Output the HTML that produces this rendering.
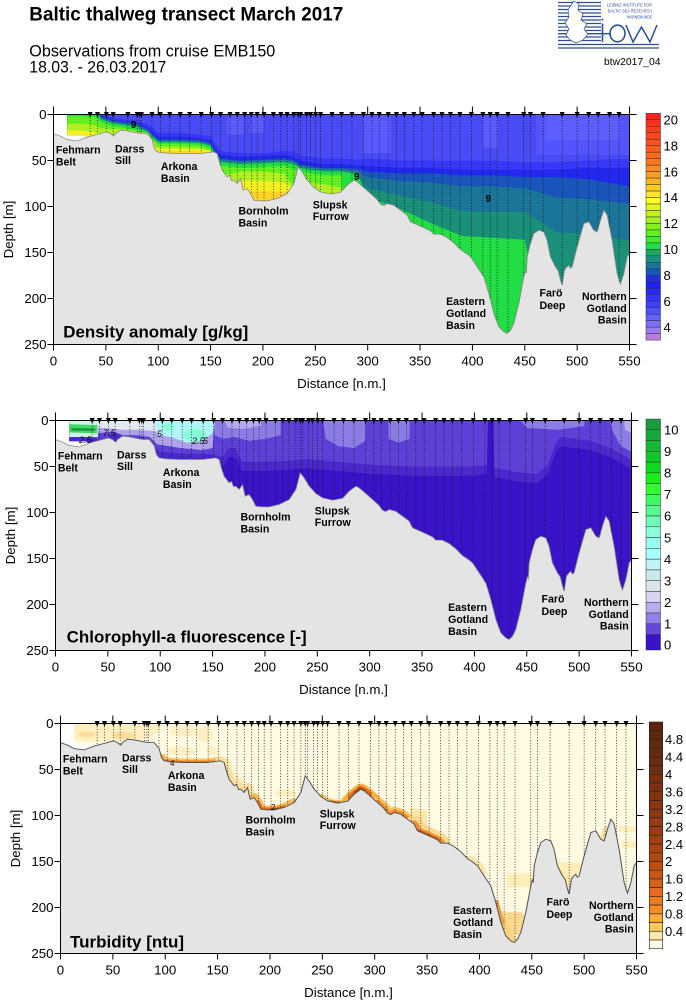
<!DOCTYPE html>
<html><head><meta charset="utf-8"><style>html,body{margin:0;padding:0;background:#fff;}svg{display:block;}</style></head>
<body>
<svg xmlns="http://www.w3.org/2000/svg" width="686" height="1000" viewBox="0 0 686 1000" font-family="'Liberation Sans', Arial, sans-serif">
<rect width="686" height="1000" fill="#fff"/>
<defs>
<clipPath id="dc"><path d="M13,0 H550 V250 H32.8 V24.3 L28,22.5 H13 Z"/></clipPath>
<path id="botf" d="M0,20.7 6.7,23.6 13,27.2 22.6,28.7 32.8,24.3 44.9,20.7 50.6,18.9 54.4,20.7 57.6,23.6 59.2,20.7 64,17.1 70.3,17.8 76.7,19.3 83,20.7 89.4,20.7 94.2,27.2 96.4,37 99,40.6 105.3,41.7 118,42.4 140.4,42.4 153,40.6 156.3,42.4 157.9,49.7 161,60.5 165.8,67.8 168,66 170,72 172.2,71.4 175.4,75 178.6,69.6 181.1,82.3 184.9,80.5 188.1,85.9 191.3,93.2 197.7,93.9 204,93.9 213.6,91.3 223.2,85.9 229.5,75 233.7,56.9 237.5,62.4 242.3,71.4 248.7,79.4 255,84.1 264.6,86.6 274.2,84.5 280.4,76.9 286.8,71.4 289.9,73.2 296.3,79.4 302.7,85.9 309,92.4 312.2,97.5 315.4,99 318.6,96.8 324.9,98.6 331.3,104 337.7,109.4 340.9,116.7 350.4,121.4 360,126.5 363.2,130.1 369.5,130.1 375.9,133.7 382.3,139.5 388.6,146.8 395,151.8 398.2,154.7 404.5,165.6 410.9,176.5 415.7,194.6 420.5,216.3 425.2,230.8 430,236.3 433.2,238.1 436.4,234.5 439.5,227.2 444.3,205.5 449.1,176.5 450.5,170 451.5,172 452.3,154.7 455.4,140.3 458.6,129.4 463.4,125.8 468.2,127.6 471.3,136.7 474.5,154.7 479.3,165.6 482,170 484.1,180.1 485.7,185.5 487.9,169.2 490,166 492,163.8 493.5,167 495.2,165.6 500,143.9 506.4,118.5 511.2,116.7 515.9,125.8 519.1,127.6 522.3,114.9 525.5,104 528.7,109.4 533.4,136.7 538.2,172.9 541.4,184.4 544.6,172.9 547.8,154.7 550,151.1 L550,250 L0,250 Z"/>
<path id="botl" d="M0,20.7 6.7,23.6 13,27.2 22.6,28.7 32.8,24.3 44.9,20.7 50.6,18.9 54.4,20.7 57.6,23.6 59.2,20.7 64,17.1 70.3,17.8 76.7,19.3 83,20.7 89.4,20.7 94.2,27.2 96.4,37 99,40.6 105.3,41.7 118,42.4 140.4,42.4 153,40.6 156.3,42.4 157.9,49.7 161,60.5 165.8,67.8 168,66 170,72 172.2,71.4 175.4,75 178.6,69.6 181.1,82.3 184.9,80.5 188.1,85.9 191.3,93.2 197.7,93.9 204,93.9 213.6,91.3 223.2,85.9 229.5,75 233.7,56.9 237.5,62.4 242.3,71.4 248.7,79.4 255,84.1 264.6,86.6 274.2,84.5 280.4,76.9 286.8,71.4 289.9,73.2 296.3,79.4 302.7,85.9 309,92.4 312.2,97.5 315.4,99 318.6,96.8 324.9,98.6 331.3,104 337.7,109.4 340.9,116.7 350.4,121.4 360,126.5 363.2,130.1 369.5,130.1 375.9,133.7 382.3,139.5 388.6,146.8 395,151.8 398.2,154.7 404.5,165.6 410.9,176.5 415.7,194.6 420.5,216.3 425.2,230.8 430,236.3 433.2,238.1 436.4,234.5 439.5,227.2 444.3,205.5 449.1,176.5 450.5,170 451.5,172 452.3,154.7 455.4,140.3 458.6,129.4 463.4,125.8 468.2,127.6 471.3,136.7 474.5,154.7 479.3,165.6 482,170 484.1,180.1 485.7,185.5 487.9,169.2 490,166 492,163.8 493.5,167 495.2,165.6 500,143.9 506.4,118.5 511.2,116.7 515.9,125.8 519.1,127.6 522.3,114.9 525.5,104 528.7,109.4 533.4,136.7 538.2,172.9 541.4,184.4 544.6,172.9 547.8,154.7 550,151.1"/>
<g id="st">
<path fill="none" stroke="#111" stroke-width="0.7" stroke-dasharray="1.1 1.9" d="M35,0V23M42,0V21M50.5,0V18.5M57,0V22.5M71,0V17.5M80,0V19.5M82.5,0V20M84,0V20.5M94,0V26M102,0V41M111,0V42M121,0V42M130,0V42M141,0V42M151,0V40.5M159.5,0V55M168.5,0V67M175.5,0V74M182.5,0V81M189,0V87M194.5,0V93M201,0V93.5M210,0V92M217,0V89M223,0V85.5M229.5,0V74.5M233.7,0V56.5M236,0V60M241.7,0V70M245.5,0V75M250.3,0V80M255,0V83.5M266,0V86M275,0V83M285,0V72.5M296,0V79M304,0V87M311,0V94.5M319.6,0V96.5M327.5,0V100.5M335,0V107M344,0V117.5M352,0V122M363,0V129.5M371,0V130.5M379,0V136M388,0V146M399,0V155M410,0V175M417,0V199M423.6,0V224M434,0V236.5M449,0V176M455.4,0V140M467.5,0V127M485.7,0V185M500,0V143.5M511,0V116.5M520,0V125M531,0V122M540,0V182"/>
<path fill="#000" d="M32.6,-2.7h4.8l-2.4,6zM39.6,-2.7h4.8l-2.4,6zM48.1,-2.7h4.8l-2.4,6zM54.6,-2.7h4.8l-2.4,6zM68.6,-2.7h4.8l-2.4,6zM77.6,-2.7h4.8l-2.4,6zM80.1,-2.7h4.8l-2.4,6zM81.6,-2.7h4.8l-2.4,6zM91.6,-2.7h4.8l-2.4,6zM99.6,-2.7h4.8l-2.4,6zM108.6,-2.7h4.8l-2.4,6zM118.6,-2.7h4.8l-2.4,6zM127.6,-2.7h4.8l-2.4,6zM138.6,-2.7h4.8l-2.4,6zM148.6,-2.7h4.8l-2.4,6zM157.1,-2.7h4.8l-2.4,6zM166.1,-2.7h4.8l-2.4,6zM173.1,-2.7h4.8l-2.4,6zM180.1,-2.7h4.8l-2.4,6zM186.6,-2.7h4.8l-2.4,6zM192.1,-2.7h4.8l-2.4,6zM198.6,-2.7h4.8l-2.4,6zM207.6,-2.7h4.8l-2.4,6zM214.6,-2.7h4.8l-2.4,6zM220.6,-2.7h4.8l-2.4,6zM227.1,-2.7h4.8l-2.4,6zM231.3,-2.7h4.8l-2.4,6zM233.6,-2.7h4.8l-2.4,6zM239.3,-2.7h4.8l-2.4,6zM243.1,-2.7h4.8l-2.4,6zM247.9,-2.7h4.8l-2.4,6zM252.6,-2.7h4.8l-2.4,6zM263.6,-2.7h4.8l-2.4,6zM272.6,-2.7h4.8l-2.4,6zM282.6,-2.7h4.8l-2.4,6zM293.6,-2.7h4.8l-2.4,6zM301.6,-2.7h4.8l-2.4,6zM308.6,-2.7h4.8l-2.4,6zM317.2,-2.7h4.8l-2.4,6zM325.1,-2.7h4.8l-2.4,6zM332.6,-2.7h4.8l-2.4,6zM341.6,-2.7h4.8l-2.4,6zM349.6,-2.7h4.8l-2.4,6zM360.6,-2.7h4.8l-2.4,6zM368.6,-2.7h4.8l-2.4,6zM376.6,-2.7h4.8l-2.4,6zM385.6,-2.7h4.8l-2.4,6zM396.6,-2.7h4.8l-2.4,6zM407.6,-2.7h4.8l-2.4,6zM414.6,-2.7h4.8l-2.4,6zM421.2,-2.7h4.8l-2.4,6zM431.6,-2.7h4.8l-2.4,6zM446.6,-2.7h4.8l-2.4,6zM453,-2.7h4.8l-2.4,6zM465.1,-2.7h4.8l-2.4,6zM483.3,-2.7h4.8l-2.4,6zM497.6,-2.7h4.8l-2.4,6zM508.6,-2.7h4.8l-2.4,6zM517.6,-2.7h4.8l-2.4,6zM528.6,-2.7h4.8l-2.4,6zM537.6,-2.7h4.8l-2.4,6z"/>
</g>
<g id="ax" font-size="13.3" fill="#000">
<path fill="none" stroke="#000" stroke-width="1" d="M0,-8V230H576V-8M-6,0H583M52.36,-8V0M104.73,-8V0M157.09,-8V0M209.45,-8V0M261.82,-8V0M314.18,-8V0M366.55,-8V0M418.91,-8V0M471.27,-8V0M523.64,-8V0M0,230V236M52.36,230V236M104.73,230V236M157.09,230V236M209.45,230V236M261.82,230V236M314.18,230V236M366.55,230V236M418.91,230V236M471.27,230V236M523.64,230V236M576,230V236M-6,46H0M-6,92H0M-6,138H0M-6,184H0M-6,230H0M576,46H583M576,92H583M576,138H583M576,184H583M576,230H583"/>
<g text-anchor="middle">
<text x="0" y="251">0</text><text x="52.36" y="251">50</text><text x="104.73" y="251">100</text><text x="157.09" y="251">150</text><text x="209.45" y="251">200</text><text x="261.82" y="251">250</text><text x="314.18" y="251">300</text><text x="366.55" y="251">350</text><text x="418.91" y="251">400</text><text x="471.27" y="251">450</text><text x="523.64" y="251">500</text><text x="576" y="251">550</text>
<text x="288" y="273.5">Distance [n.m.]</text>
<text transform="translate(-40.5,115) rotate(-90)">Depth [m]</text>
</g>
<g text-anchor="end">
<text x="-7" y="4.7">0</text><text x="-7" y="50.7">50</text><text x="-7" y="96.7">100</text><text x="-7" y="142.7">150</text><text x="-7" y="188.7">200</text><text x="-7" y="234.7">250</text>
</g>
<g font-size="10.6" font-weight="bold">
<text x="2.4" y="39">Fehmarn</text><text x="2.4" y="51">Belt</text>
<text x="61.5" y="37.8">Darss</text><text x="61.5" y="49.5">Sill</text>
<text x="107.4" y="55.7">Arkona</text><text x="107.4" y="67.5">Basin</text>
<text x="185" y="99.8">Bornholm</text><text x="185" y="111.8">Basin</text>
<text x="259.3" y="94">Slupsk</text><text x="259.3" y="105.7">Furrow</text>
<text x="392.6" y="190.3">Eastern</text><text x="392.6" y="202.5">Gotland</text><text x="392.6" y="214.5">Basin</text>
<text x="486" y="182">Farö</text><text x="486" y="194.3">Deep</text>
<g text-anchor="end"><text x="573.2" y="185.3">Northern</text><text x="573.2" y="197.3">Gotland</text><text x="573.2" y="209.1">Basin</text></g>
</g>
</g>
</defs>

<!-- Header -->
<text x="29.3" y="20.7" font-size="19" font-weight="bold" textLength="314" lengthAdjust="spacingAndGlyphs">Baltic thalweg transect March 2017</text>
<text x="29.3" y="56.7" font-size="16.3" textLength="246" lengthAdjust="spacingAndGlyphs">Observations from cruise EMB150</text>
<text x="29.3" y="72.7" font-size="16.3" textLength="137" lengthAdjust="spacingAndGlyphs">18.03. - 26.03.2017</text>
<text x="604" y="65" font-size="10.4" textLength="56.5" lengthAdjust="spacingAndGlyphs">btw2017_04</text>

<!-- Logo -->
<g stroke="#2c4f97" fill="none">
<path stroke-width="1.3" d="M558,2.5H601M558,6H601M558,9.5H601M558,13H601M558,16.5H601M558,20H601M558,23.5H601M558,27H601M558,30.5H601M558,37H601M558,40.5H601M558,33.7H610M558,44.5H659M558,48H659"/>
<path fill="#fff" stroke-width="0.7" d="M574,1 L579,4 L578,10 L583,14 L581,20 L587,24 L584,29 L588,34 L583,40 L576,43 L570,40 L566,35 L569,29 L565,23 L569,17 L568,10 L571,5Z"/>
<path stroke-width="1.6" d="M602.5,23.5V42"/>
<ellipse cx="617.5" cy="33.5" rx="7.5" ry="8.3" stroke-width="1.6"/>
<polyline points="626,25 633,42 641.5,27 650,42 657,25" stroke-width="1.5"/>
</g>
<circle cx="602.5" cy="19.5" r="1" fill="#2c4f97"/>
<g fill="#2c4f97" font-size="4.3" text-anchor="end">
<text x="652" y="6.5" textLength="45" lengthAdjust="spacingAndGlyphs">LEIBNIZ INSTITUTE FOR</text>
<text x="652" y="12.3" textLength="44" lengthAdjust="spacingAndGlyphs">BALTIC SEA RESEARCH</text>
<text x="652" y="18.3" textLength="25" lengthAdjust="spacingAndGlyphs">WARNEMÜNDE</text>
</g>

<!-- ================= PANEL 1: Density ================= -->
<g transform="translate(53.5,114.5) scale(1.04727,0.92)">
<g clip-path="url(#dc)">
<rect x="0" y="-5" width="560" height="255" fill="#4a4af6"/>
<path fill="#5a5aff" d="M166,0H182V22H166ZM188,0H201V20H188ZM296,0H322V42H296ZM410,0H424V36H410Z"/>
<path fill="#5454fc" d="M461,0H550V44H461Z"/>
<path fill="#5e5eff" d="M470,0H540V28H470Z"/>
<polygon fill="#3838fa" points="13,-10 30,-10 40,-10 45,0 55,3 65,5 78,6 90,10 97,16 100,20 120,20 140,22 150,24 155,32 160,40 180,42 200,42 220,40 230,40 235,44 245,46 260,48 275,48 290,49 300,48 330,50 360,50 390,50 420,50 450,52 480,52 510,50 550,48 550,300 13,300"/>
<polygon fill="#2228ee" points="13,-10 30,-10 40,-10 45,1 55,5 65,7 78,8 90,14 97,20 100,24 120,24 140,26 150,28 155,38 160,44 180,46 200,45 220,44 230,46 235,50 245,52 260,54 275,54 290,55 300,56 330,58 360,58 390,60 420,60 450,60 480,60 510,58 550,58 550,300 13,300"/>
<polygon fill="#1a55bb" points="13,-10 30,-10 40,-10 45,2 55,6 65,8 78,9 90,16 97,24 100,27 120,27 140,28 150,31 155,42 160,48 180,50 200,49 220,48 230,50 235,54 245,56 260,58 275,58 290,59 300,62 330,64 360,64 390,66 420,66 450,68 480,68 510,70 550,78 550,300 13,300"/>
<polygon fill="#1a7598" points="13,-10 30,-10 40,-10 45,3 55,7 65,9 78,10 90,17 97,25 100,28 120,28 140,29 150,32 155,43 160,49 180,51 200,50 220,49 230,51 235,55 245,57 260,59 275,59 290,61 300,68 330,72 360,74 390,78 420,78 450,80 480,90 510,92 550,97 550,300 13,300"/>
<polygon fill="#1a9078" points="13,-10 30,-10 40,-10 45,4 55,8 65,10 78,11 90,18 97,26 100,29 120,29 140,30 150,33 155,44 160,50 180,52 200,51 220,50 230,52 235,56 245,58 260,60 275,60 290,63 300,80 330,88 360,95 390,105 420,106 450,106 480,128 510,130 550,137 550,300 13,300"/>
<polygon fill="#22dd44" points="13,-10 30,-10 40,-10 45,5 55,9 65,11 78,13 90,19 97,27 100,30 120,30 140,31 150,34 155,45 160,52 180,54 200,53 220,52 230,54 235,58 245,60 260,62 275,62 290,65 300,90 330,102 360,118 390,132 420,134 450,136 480,300 550,300 13,300"/>
<polygon fill="#60f020" points="13,2 30,2 40,3 45,8 55,12 65,14 78,17 90,21 97,30 100,32 120,32 140,33 150,37 155,48 160,56 180,58 200,57 220,56 230,60 235,62 245,64 260,66 275,66 290,300 550,300 13,300"/>
<polygon fill="#b0f020" points="13,10 30,10 40,12 45,15 55,16 65,16 78,18 90,20 97,34 100,35 120,35 140,36 150,39 155,60 160,66 180,62 200,62 220,64 230,80 235,80 245,74 260,76 275,80 290,300 550,300 13,300"/>
<polygon fill="#f6f020" points="13,17 30,18 40,20 45,22 55,25 90,25 97,36 100,37.5 120,37.5 140,38 150,39.5 155,60 160,76 180,72 200,72 220,74 230,80 235,300 550,300 13,300"/>
<polygon fill="#ffd424" points="13,30 97,30 97,40 140,40 140,40.5 150,41 155,60 160,86 180,84 200,83 220,84 230,90 235,300 550,300 13,300"/>
</g>
<use href="#botf" fill="#e4e4e4"/>
<use href="#botl" fill="none" stroke="#888" stroke-width="0.8"/>
<use href="#st"/>
</g>
<use href="#ax" x="53.5" y="114.5"/>
<g font-size="10" font-weight="bold" text-anchor="middle">
<text x="133.5" y="128">9</text><text x="356.7" y="180">9</text><text x="488.3" y="202">9</text>
</g>
<text x="63.3" y="337.3" font-size="16.5" font-weight="bold" textLength="185" lengthAdjust="spacingAndGlyphs">Density anomaly [g/kg]</text>

<!-- Colorbar 1 -->
<g stroke="#333" stroke-width="0.5">
<rect x="646" y="113.3" width="14.5" height="6.48" fill="#ff2020"/>
<rect x="646" y="119.78" width="14.5" height="6.48" fill="#ff3020"/>
<rect x="646" y="126.26" width="14.5" height="6.48" fill="#ff3c20"/>
<rect x="646" y="132.74" width="14.5" height="6.48" fill="#ff4620"/>
<rect x="646" y="139.22" width="14.5" height="6.48" fill="#ff5020"/>
<rect x="646" y="145.7" width="14.5" height="6.48" fill="#ff5c20"/>
<rect x="646" y="152.18" width="14.5" height="6.48" fill="#ff6820"/>
<rect x="646" y="158.66" width="14.5" height="6.48" fill="#ff7820"/>
<rect x="646" y="165.14" width="14.5" height="6.48" fill="#ff8a20"/>
<rect x="646" y="171.62" width="14.5" height="6.48" fill="#ff9e20"/>
<rect x="646" y="178.1" width="14.5" height="6.48" fill="#ffb420"/>
<rect x="646" y="184.58" width="14.5" height="6.48" fill="#ffcc20"/>
<rect x="646" y="191.06" width="14.5" height="6.48" fill="#ffe820"/>
<rect x="646" y="197.54" width="14.5" height="6.48" fill="#ffff20"/>
<rect x="646" y="204.02" width="14.5" height="6.48" fill="#e0f820"/>
<rect x="646" y="210.5" width="14.5" height="6.48" fill="#c4f020"/>
<rect x="646" y="216.98" width="14.5" height="6.48" fill="#a4f020"/>
<rect x="646" y="223.46" width="14.5" height="6.48" fill="#84f020"/>
<rect x="646" y="229.94" width="14.5" height="6.48" fill="#60f020"/>
<rect x="646" y="236.42" width="14.5" height="6.48" fill="#40ee28"/>
<rect x="646" y="242.9" width="14.5" height="6.48" fill="#22dd44"/>
<rect x="646" y="249.38" width="14.5" height="6.48" fill="#1aa860"/>
<rect x="646" y="255.86" width="14.5" height="6.48" fill="#1a9080"/>
<rect x="646" y="262.34" width="14.5" height="6.48" fill="#1a7598"/>
<rect x="646" y="268.82" width="14.5" height="6.48" fill="#1a55bb"/>
<rect x="646" y="275.3" width="14.5" height="6.48" fill="#2030e0"/>
<rect x="646" y="281.78" width="14.5" height="6.48" fill="#2020f0"/>
<rect x="646" y="288.26" width="14.5" height="6.48" fill="#2828ff"/>
<rect x="646" y="294.74" width="14.5" height="6.48" fill="#3434ff"/>
<rect x="646" y="301.22" width="14.5" height="6.48" fill="#4040ff"/>
<rect x="646" y="307.7" width="14.5" height="6.48" fill="#5050ff"/>
<rect x="646" y="314.18" width="14.5" height="6.48" fill="#6262ff"/>
<rect x="646" y="320.66" width="14.5" height="6.48" fill="#7a70fa"/>
<rect x="646" y="327.14" width="14.5" height="6.48" fill="#9a7cf0"/>
<rect x="646" y="333.62" width="14.5" height="6.48" fill="#b87ce0"/>
</g>
<g font-size="13">
<text x="663.5" y="124.5">20</text><text x="663.5" y="150.4">18</text><text x="663.5" y="176.3">16</text><text x="663.5" y="202.2">14</text><text x="663.5" y="228.2">12</text><text x="663.5" y="254.1">10</text><text x="663.5" y="280">8</text><text x="663.5" y="305.9">6</text><text x="663.5" y="331.8">4</text>
</g>

<!-- ================= PANEL 2: Chlorophyll ================= -->
<g transform="translate(55.5,420.5) scale(1.04727,0.92)">
<g clip-path="url(#dc)">
<rect x="0" y="-5" width="560" height="255" fill="#3a12c8"/>
<polygon fill="#4a28cc" points="13,-10 550,-10 550,53 530,40 510,32 482,28 478,34 470,58 460,68 440,66 422,62 419,62 418,-10 413,-10 412,58 400,60 340,60 300,58 280,56 260,54 240,52 220,54 190,55 178,55 172,40 165,40 160,50 150,47 140,46 120,46 100,44 96,40 90,32 65,34 60,24 55,24 45,34 40,30 30,28 13,28"/>
<polygon fill="#5e40d6" points="13,-10 550,-10 550,43 530,30 510,22 482,18 478,24 470,48 460,58 440,56 422,52 419,52 418,-10 413,-10 412,48 400,50 340,50 300,48 280,46 260,44 240,42 220,44 190,45 178,45 172,30 165,30 160,40 150,37 140,36 120,36 100,34 96,30 90,22 65,24 60,14 55,14 45,24 40,20 30,18 13,18"/>
<path fill="#8c7ce6" d="M150,-5 L215,-5 L215,16 L200,20 L185,22 L170,18 L160,20 L152,16Z M255,-5 L296,-5 L296,22 L285,30 L270,28 L258,20Z M318,-5 L338,-5 L338,20 L328,24 L318,20Z M440,-5 L505,-5 L505,6 L480,10 L450,8Z M528,-5 L550,-5 L550,34 L540,28 L532,12Z"/>
<path fill="#b4aaee" d="M158,-5 L196,-5 L196,6 L180,9 L165,8Z M542,-5 L550,-5 L550,14 L544,10Z"/>
<polygon fill="#aea2ec" points="40,-10 152,-10 152,0 150,30 140,32 120,30 97,26 90,18 78,16 65,16 55,12 40,14"/>
<polygon fill="#e2eaf0" points="40,-10 97,-10 97,12 90,11 78,10 65,10 55,9 45,8 40,8"/>
<polygon fill="#b0f6f8" points="96,-10 152,-10 152,0 150,14 140,22 125,24 110,18 100,16 96,12"/>
<ellipse fill="#88ffd8" cx="133" cy="16" rx="11" ry="7"/>
<ellipse fill="#88ffd8" cx="108" cy="7" rx="6" ry="4"/>
<rect fill="#cef4ea" x="13" y="-1" width="27.5" height="19"/>
<polygon fill="#44d864" points="13,4 40,5 40,14 13,13"/>
<polygon fill="#1a9c44" points="15,8 38,8.5 38,11.5 15,11"/>
</g>
<use href="#botf" fill="#e4e4e4"/>
<use href="#botl" fill="none" stroke="#888" stroke-width="0.8"/>
<use href="#st"/>
</g>
<use href="#ax" x="55.5" y="420.5"/>
<g font-size="9" font-style="italic" fill="#111">
<text x="79" y="443">2.5</text><text x="103" y="436">7.5</text><text x="157" y="437">5</text><text x="192" y="444">2.5</text><text x="203" y="444">5</text>
</g>
<text x="66.7" y="642.7" font-size="16.5" font-weight="bold" textLength="240" lengthAdjust="spacingAndGlyphs">Chlorophyll-a fluorescence [-]</text>

<!-- Colorbar 2 -->
<g stroke="#333" stroke-width="0.5">
<rect x="646" y="419" width="14.5" height="10.78" fill="#1a9a3c"/>
<rect x="646" y="429.78" width="14.5" height="10.78" fill="#16a83a"/>
<rect x="646" y="440.56" width="14.5" height="10.78" fill="#12b834"/>
<rect x="646" y="451.34" width="14.5" height="10.78" fill="#10c82c"/>
<rect x="646" y="462.12" width="14.5" height="10.78" fill="#10d820"/>
<rect x="646" y="472.9" width="14.5" height="10.78" fill="#18f018"/>
<rect x="646" y="483.68" width="14.5" height="10.78" fill="#30ff30"/>
<rect x="646" y="494.46" width="14.5" height="10.78" fill="#40f860"/>
<rect x="646" y="505.24" width="14.5" height="10.78" fill="#58f890"/>
<rect x="646" y="516.02" width="14.5" height="10.78" fill="#70fcb8"/>
<rect x="646" y="526.8" width="14.5" height="10.78" fill="#88ffd8"/>
<rect x="646" y="537.58" width="14.5" height="10.78" fill="#98fff0"/>
<rect x="646" y="548.36" width="14.5" height="10.78" fill="#a8ffff"/>
<rect x="646" y="559.14" width="14.5" height="10.78" fill="#baf4f4"/>
<rect x="646" y="569.92" width="14.5" height="10.78" fill="#cae9ea"/>
<rect x="646" y="580.7" width="14.5" height="10.78" fill="#dce6ea"/>
<rect x="646" y="591.48" width="14.5" height="10.78" fill="#d8d4f0"/>
<rect x="646" y="602.26" width="14.5" height="10.78" fill="#b8acee"/>
<rect x="646" y="613.04" width="14.5" height="10.78" fill="#9280e8"/>
<rect x="646" y="623.82" width="14.5" height="10.78" fill="#6448da"/>
<rect x="646" y="634.6" width="14.5" height="15.4" fill="#3a12c8"/>
</g>
<g font-size="13">
<text x="664" y="434.5">10</text><text x="664" y="456">9</text><text x="664" y="477.6">8</text><text x="664" y="499.2">7</text><text x="664" y="520.7">6</text><text x="664" y="542.3">5</text><text x="664" y="563.8">4</text><text x="664" y="585.4">3</text><text x="664" y="607">2</text><text x="664" y="628.5">1</text><text x="664" y="649.7">0</text>
</g>

<!-- ================= PANEL 3: Turbidity ================= -->
<g transform="translate(60.5,723.5) scale(1.04727,0.92)">
<g clip-path="url(#dc)">
<rect x="0" y="-5" width="560" height="255" fill="#fffbe2"/>
<polygon fill="#ffefc0" points="13,-1 95,-1 95,8 85,16 70,20 55,18 40,20 25,20 13,18"/>
<ellipse fill="#ffdc98" cx="60" cy="13" rx="10" ry="4"/>
<ellipse fill="#ffdc98" cx="25" cy="12" rx="8" ry="3"/>
<ellipse fill="#fff0c4" cx="118" cy="8" rx="14" ry="6"/>
<ellipse fill="#fff0c4" cx="138" cy="12" rx="8" ry="9"/>
<ellipse fill="#fff0c4" cx="115" cy="30" rx="14" ry="5"/>
<ellipse fill="#fff0c4" cx="145" cy="30" rx="6" ry="5"/>
<polygon fill="#ffefc0" points="152,44 165,52 175,62 182,76 172,74 162,64 155,52"/>
<ellipse fill="#ffefc0" cx="215" cy="76" rx="10" ry="4"/>
<rect fill="#ffeeb8" x="426" y="163" width="26" height="15"/>
<polygon fill="#ffeeb8" points="470,150 498,152 496,162 488,168 478,166 472,158"/>
<rect fill="#ffeeb8" x="533" y="112" width="17" height="6"/>
<rect fill="#ffeeb8" x="536" y="128" width="14" height="7"/>
<polygon fill="#ffe8a8" points="334,91 350,95 350,127 340,120 334,105"/>
<polygon fill="#ffd890" points="417,195 422,205 440,205 446,212 442,228 428,232 422,225"/>
<g fill="none" stroke-linejoin="round" stroke-linecap="round">
<polyline stroke="#ffc868" stroke-width="9" points="96.4,37 99,40.6 105.3,41.7 118,42.4 140.4,42.4 153,40.6"/>
<polyline stroke="#f49a38" stroke-width="5" points="96.4,37 99,40.6 105.3,41.7 118,42.4 140.4,42.4 153,40.6"/>
<polyline stroke="#d86414" stroke-width="2.5" points="100,41 105.3,41.7 118,42.4 140,42.4"/>
<polyline stroke="#ffe0a0" stroke-width="10" points="153,40.6 156.3,42.4 157.9,49.7 161,60.5 165.8,67.8 168,66 170,72 172.2,71.4 175.4,75 178.6,69.6 181.1,82.3 184.9,80.5 188.1,85.9"/>
<polyline stroke="#ffb850" stroke-width="9" points="184.9,80.5 188.1,85.9 191.3,93.2 197.7,93.9 204,93.9 213.6,91.3 223.2,85.9"/>
<polyline stroke="#e07018" stroke-width="5" points="188.1,85.9 191.3,93.2 197.7,93.9 204,93.9 213.6,91.3"/>
<polyline stroke="#9a3c10" stroke-width="2.5" points="200,93.9 208,93"/>
<polyline stroke="#ffc060" stroke-width="6" points="248.7,79.4 255,84.1 264.6,86.6 274.2,84.5"/>
<polyline stroke="#c85a14" stroke-width="3" points="258,85 266,86.6"/>
<polyline stroke="#ffb040" stroke-width="12" points="274.2,84.5 280.4,76.9 286.8,71.4 289.9,73.2 296.3,79.4 302.7,85.9"/>
<polyline stroke="#e06c18" stroke-width="7" points="278,80 280.4,76.9 286.8,71.4 289.9,73.2 294,77"/>
<polyline stroke="#a84010" stroke-width="3" points="282,74.5 286.8,71.4 289.9,73.2"/>
<polyline stroke="#ffc060" stroke-width="12" points="302.7,85.9 309,92.4 312.2,97.5 315.4,99 318.6,96.8 324.9,98.6 331.3,104 337.7,109.4"/>
<polyline stroke="#f08a2a" stroke-width="6" points="302.7,85.9 309,92.4 312.2,97.5 315.4,99 318.6,96.8 324.9,98.6 331.3,104"/>
<polyline stroke="#ffd890" stroke-width="18" points="337.7,109.4 340.9,116.7 350.4,121.4 360,126.5 363.2,130.1"/>
<polyline stroke="#f09030" stroke-width="8" points="337.7,109.4 340.9,116.7 350.4,121.4 360,126.5 363.2,130.1"/>
<polyline stroke="#c85a14" stroke-width="4" points="340.9,116.7 350.4,121.4 360,126.5"/>
<polyline stroke="#ffe4a8" stroke-width="10" points="391,149 395,151.8 398.2,154.7 402,161"/>
<polyline stroke="#ffd080" stroke-width="12" points="420.5,216.3 425.2,230.8 430,236.3"/>
<polyline stroke="#f0a040" stroke-width="6" points="415.7,194.6 420.5,216.3"/>
<polyline stroke="#ffe6a8" stroke-width="8" points="479.3,165.6 482,170 484.1,180.1 485.7,185.5 487.9,169.2"/>
<polyline stroke="#ffe0a0" stroke-width="8" points="515.9,125.8 519.1,127.6 522.3,114.9"/>
</g>
</g>
<use href="#botf" fill="#e4e4e4"/>
<use href="#botl" fill="none" stroke="#555" stroke-width="1"/>
<use href="#st"/>
</g>
<use href="#ax" x="60.5" y="723.5"/>
<g font-size="8" fill="#111"><text x="170" y="766">4</text><text x="271" y="810">2</text></g>
<text x="70" y="947.3" font-size="16.5" font-weight="bold" textLength="114" lengthAdjust="spacingAndGlyphs">Turbidity [ntu]</text>

<!-- Colorbar 3 -->
<g stroke="#222" stroke-width="0.6">
<rect x="649.3" y="722" width="13.4" height="8.72" fill="#5a2410"/>
<rect x="649.3" y="730.72" width="13.4" height="8.72" fill="#5e2610"/>
<rect x="649.3" y="739.44" width="13.4" height="8.72" fill="#622810"/>
<rect x="649.3" y="748.16" width="13.4" height="8.72" fill="#662a10"/>
<rect x="649.3" y="756.88" width="13.4" height="8.72" fill="#6a2c10"/>
<rect x="649.3" y="765.6" width="13.4" height="8.72" fill="#702e10"/>
<rect x="649.3" y="774.32" width="13.4" height="8.72" fill="#763010"/>
<rect x="649.3" y="783.04" width="13.4" height="8.72" fill="#7c3210"/>
<rect x="649.3" y="791.76" width="13.4" height="8.72" fill="#823410"/>
<rect x="649.3" y="800.48" width="13.4" height="8.72" fill="#883610"/>
<rect x="649.3" y="809.2" width="13.4" height="8.72" fill="#8e3810"/>
<rect x="649.3" y="817.92" width="13.4" height="8.72" fill="#963a10"/>
<rect x="649.3" y="826.64" width="13.4" height="8.72" fill="#9c3c10"/>
<rect x="649.3" y="835.36" width="13.4" height="8.72" fill="#a43e10"/>
<rect x="649.3" y="844.08" width="13.4" height="8.72" fill="#ac4210"/>
<rect x="649.3" y="852.8" width="13.4" height="8.72" fill="#b44610"/>
<rect x="649.3" y="861.52" width="13.4" height="8.72" fill="#c04c10"/>
<rect x="649.3" y="870.24" width="13.4" height="8.72" fill="#cc5614"/>
<rect x="649.3" y="878.96" width="13.4" height="8.72" fill="#d86018"/>
<rect x="649.3" y="887.68" width="13.4" height="8.72" fill="#e46c1c"/>
<rect x="649.3" y="896.4" width="13.4" height="8.72" fill="#f07a20"/>
<rect x="649.3" y="905.12" width="13.4" height="8.72" fill="#f88c28"/>
<rect x="649.3" y="913.84" width="13.4" height="8.72" fill="#ffa838"/>
<rect x="649.3" y="922.56" width="13.4" height="8.72" fill="#ffc860"/>
<rect x="649.3" y="931.28" width="13.4" height="8.72" fill="#ffe8a8"/>
<rect x="649.3" y="940" width="13.4" height="8.72" fill="#fffbe0"/>
</g>
<g font-size="13">
<text x="665" y="744.1">4.8</text><text x="665" y="761.6">4.4</text><text x="665" y="779">4</text><text x="665" y="796.5">3.6</text><text x="665" y="813.9">3.2</text><text x="665" y="831.3">2.8</text><text x="665" y="848.8">2.4</text><text x="665" y="866.2">2</text><text x="665" y="883.7">1.6</text><text x="665" y="901.1">1.2</text><text x="665" y="918.5">0.8</text><text x="665" y="936">0.4</text>
</g>
</svg>
</body></html>
